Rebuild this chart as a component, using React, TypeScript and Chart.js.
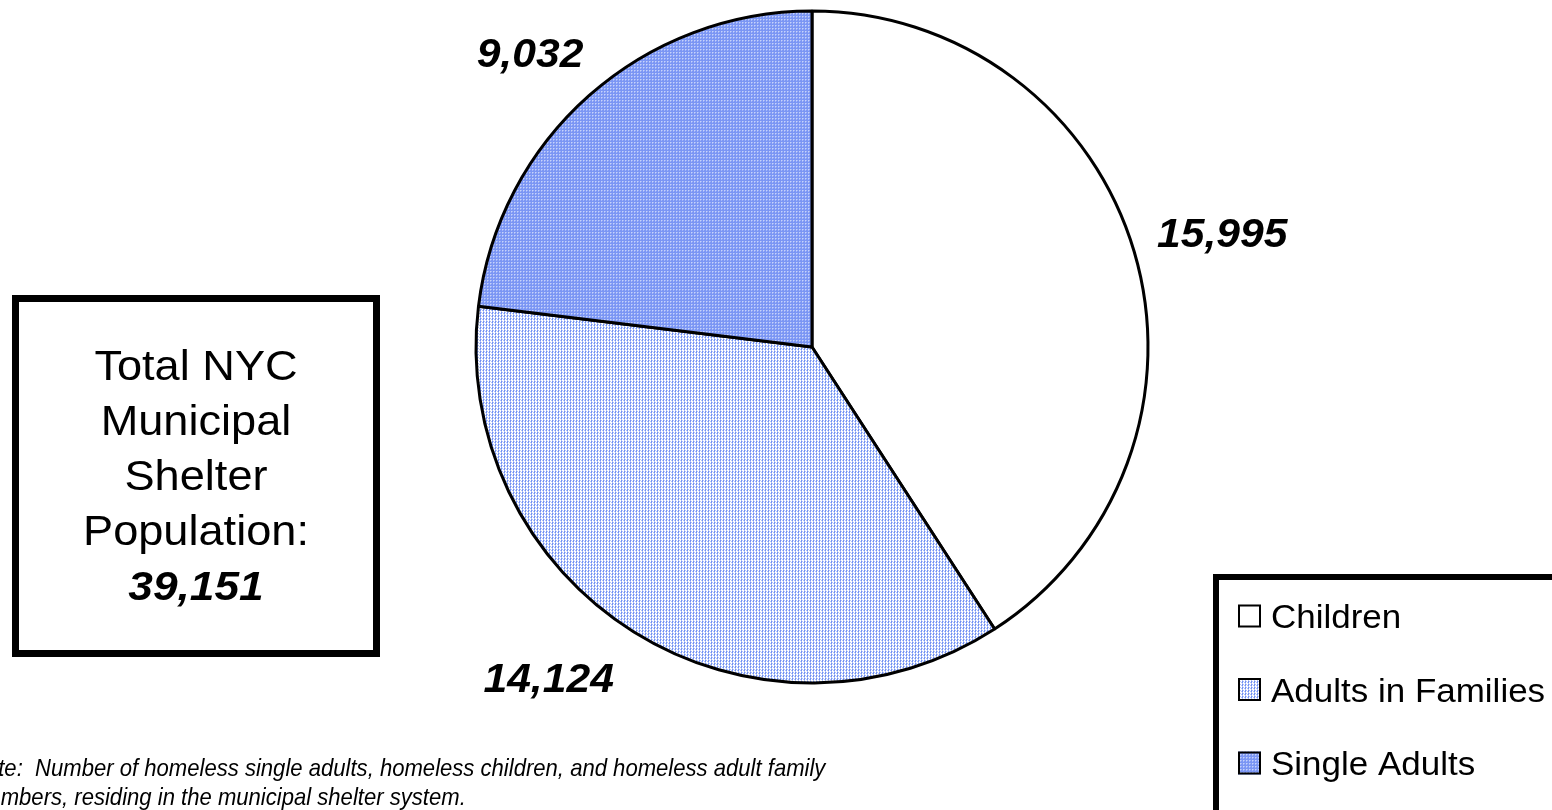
import React, { useEffect, useRef } from "react";
import { Chart, registerables } from "chart.js";

Chart.register(...registerables);

const categories = ["Children", "Adults in Families", "Single Adults"];
const values = [15995, 14124, 9032];
const valueLabels = ["15,995", "14,124", "9,032"];
const totalLabel = "39,151";
const totalLines = ["Total NYC", "Municipal", "Shelter", "Population:"];
const noteLines = [
  "Note:  Number of homeless single adults, homeless children, and homeless adult family",
  "members, residing in the municipal shelter system.",
];

function makePattern(kind: string): CanvasPattern | string {
  const c = document.createElement("canvas");
  c.width = 3;
  c.height = 3;
  const g = c.getContext("2d")!;
  if (kind === "white") return "#ffffff";
  if (kind === "dots") {
    g.fillStyle = "#ffffff";
    g.fillRect(0, 0, 3, 3);
    g.fillStyle = "#7292f3";
    g.fillRect(0, 0, 1, 2);
    g.fillStyle = "#b3c4f9";
    g.fillRect(1, 0, 1, 1);
    g.fillRect(0, 2, 1, 1);
    g.fillRect(2, 1, 1, 1);
  } else {
    g.fillStyle = "#7b96f4";
    g.fillRect(0, 0, 3, 3);
    g.fillStyle = "#c6d2fb";
    g.fillRect(1, 1, 1, 1);
    g.fillStyle = "#a3b6f8";
    g.fillRect(2, 1, 1, 1);
    g.fillRect(1, 2, 1, 1);
  }
  return g.createPattern(c, "repeat")!;
}

const FONT = '"Liberation Sans", Arial, Helvetica, sans-serif';

export default function App() {
  const ref = useRef<HTMLCanvasElement>(null);
  useEffect(() => {
    const canvas = ref.current!;
    const fills = [makePattern("white"), makePattern("dots"), makePattern("solid")];

    const overlay = {
      id: "overlay",
      afterDraw(chart: any) {
        const ctx = chart.ctx as CanvasRenderingContext2D;
        const meta = chart.getDatasetMeta(0);
        const nudges = [0.8, 6.6, -2.2];
        const dists = [426, 422, 408];
        ctx.save();
        ctx.fillStyle = "#000";
        ctx.textAlign = "center";
        ctx.textBaseline = "middle";
        meta.data.forEach((arc: any, i: number) => {
          const p = arc.getProps(["x", "y", "startAngle", "endAngle"], true);
          const mid = (p.startAngle + p.endAngle) / 2 + (nudges[i] * Math.PI) / 180;
          const x = p.x + Math.cos(mid) * dists[i];
          const y = p.y + Math.sin(mid) * dists[i] + 4;
          ctx.save();
          ctx.translate(x, y);
          ctx.scale(1.04, 1);
          ctx.font = `italic bold 41px ${FONT}`;
          ctx.fillText(valueLabels[i], 0, 0);
          ctx.restore();
        });

        // total box
        ctx.lineWidth = 7;
        ctx.strokeStyle = "#000";
        ctx.strokeRect(15.5, 298.5, 361, 355);
        ctx.textBaseline = "alphabetic";
        totalLines.forEach((t, i) => {
          ctx.save();
          ctx.translate(196, 380 + i * 55);
          ctx.scale(1.05, 1);
          ctx.font = `43px ${FONT}`;
          ctx.fillText(t, 0, 0);
          ctx.restore();
        });
        ctx.save();
        ctx.translate(196, 600);
        ctx.scale(1.08, 1);
        ctx.font = `italic bold 41px ${FONT}`;
        ctx.fillText(totalLabel, 0, 0);
        ctx.restore();

        // legend
        ctx.lineWidth = 6;
        ctx.strokeRect(1216, 577, 400, 300);
        ctx.textAlign = "left";
        categories.forEach((c, i) => {
          const cy = 616 + i * 73.5;
          ctx.fillStyle = fills[i] as any;
          ctx.fillRect(1238, cy - 11.5, 23, 23);
          ctx.lineWidth = 2;
          ctx.strokeStyle = "#000";
          ctx.strokeRect(1239, cy - 10.5, 21, 21);
          ctx.fillStyle = "#000";
          ctx.save();
          ctx.translate(1271, cy + 12);
          ctx.scale(1.06, 1);
          ctx.font = `33px ${FONT}`;
          ctx.fillText(c, 0, 0);
          ctx.restore();
        });

        // note
        noteLines.forEach((t, i) => {
          ctx.save();
          ctx.translate(-30, 776 + i * 29);
          ctx.scale(0.92, 1);
          ctx.font = `italic 24px ${FONT}`;
          ctx.fillText(t, 0, 0);
          ctx.restore();
        });
        ctx.restore();
      },
    };

    const chart = new Chart(canvas, {
      type: "pie",
      data: {
        labels: categories,
        datasets: [
          {
            data: values,
            backgroundColor: fills as any,
            borderColor: "#000",
            borderWidth: 3,
          },
        ],
      },
      options: {
        animation: false,
        responsive: false,
        radius: 336,
        layout: { padding: { left: 72, right: 0, top: 0, bottom: 116 } },
        plugins: {
          legend: { display: false },
          tooltip: { enabled: false },
          title: { display: false },
        },
      } as any,
      plugins: [overlay],
    });
    return () => chart.destroy();
  }, []);

  return (
    <div style={{ position: "fixed", left: 0, top: 0, width: 1552, height: 810, background: "#fff", overflow: "hidden" }}>
      <canvas ref={ref} width={1552} height={810} style={{ width: 1552, height: 810, display: "block" }} />
    </div>
  );
}
